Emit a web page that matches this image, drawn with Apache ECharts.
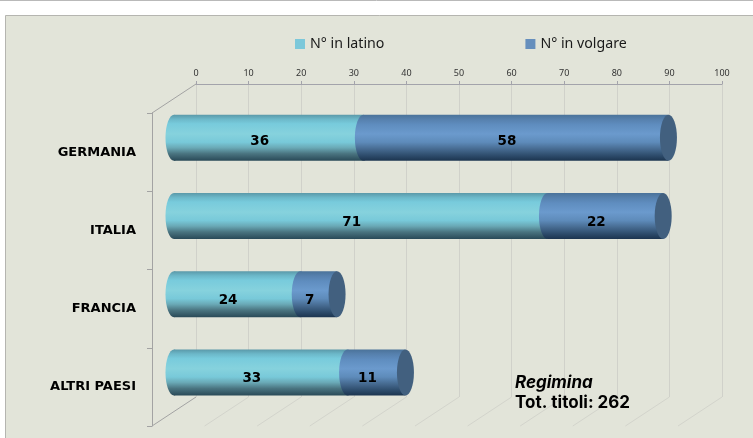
<!DOCTYPE html>
<html><head><meta charset="utf-8">
<style>html,body{margin:0;padding:0;background:#fff}#c{width:753px;height:438px}</style>
<script src="https://cdn.jsdelivr.net/npm/echarts@6/dist/echarts.min.js"></script>
</head><body><div id="c"></div>
<script>
const categories = ['GERMANIA', 'ITALIA', 'FRANCIA', 'ALTRI PAESI'];
const latino = [36, 71, 24, 33];
const volgare = [58, 22, 7, 11];
const axisTicks = [0, 10, 20, 30, 40, 50, 60, 70, 80, 90, 100];
const seriesNames = ['N° in latino', 'N° in volgare'];
const noteLines = ['Regimina', 'Tot. titoli: 262'];

// 3D look: depth of the box, and where the cylinders sit within it
const DX = -44, DY = 29, BAR_DX = -22, BAR_DY = 14.5, BAR_H = 46, RX = 8.5;
const LABEL_DY = [4, 7, 6, 6], LABEL_DX = -9;
const GRID = { left: 196, top: 84, width: 526, height: 313 };

function grad(stops) {
  return { type: 'linear', x: 0, y: 0, x2: 0, y2: 1,
    colorStops: stops.map(s => ({ offset: s[0], color: s[1] })) };
}
const latinFill = grad([[0, '#5a98a8'], [0.1, '#6cb8c9'], [0.2, '#78cbdc'], [0.42, '#86d2dd'], [0.6, '#78c9d9'], [0.72, '#6aa9b6'], [0.85, '#4a7480'], [1, '#2a4a58']]);
const volgFill = grad([[0, '#4a7299'], [0.1, '#5680ad'], [0.22, '#5f8dbf'], [0.42, '#6b9acd'], [0.6, '#5e8bba'], [0.75, '#466a90'], [0.88, '#2f4e6e'], [1, '#1c3550']]);
const capFill = '#42607f';

function cylinder(startIdx, endIdx, fill, withCap) {
  return function (params, api) {
    const i = api.value(2);
    const a = api.coord([api.value(startIdx), i]);
    const b = api.coord([api.value(endIdx), i]);
    const x0 = a[0] + BAR_DX, x1 = b[0] + BAR_DX, cy = a[1] + BAR_DY;
    const top = cy - BAR_H / 2;
    const children = [
      { type: 'ellipse', shape: { cx: x0, cy: cy, rx: RX, ry: BAR_H / 2 }, style: { fill: fill } },
      { type: 'rect', shape: { x: x0, y: top, width: x1 - x0, height: BAR_H }, style: { fill: fill } }
    ];
    if (withCap) {
      children.push({ type: 'ellipse', shape: { cx: x1, cy: cy, rx: RX, ry: BAR_H / 2 }, style: { fill: capFill } });
    }
    children.push({ type: 'text', z2: 50, style: {
      x: (x0 + x1) / 2 + LABEL_DX, y: cy + LABEL_DY[i],
      text: String(api.value(endIdx) - api.value(startIdx)),
      font: 'bold 13.5px "DejaVu Sans"', fill: '#000', align: 'center', verticalAlign: 'middle' } });
    return { type: 'group', children: children };
  };
}

function floorLine(params, api) {
  const v = api.value(0);
  const cs = params.coordSys;
  const x = api.coord([v, 0])[0];
  const yb = cs.y + cs.height;
  const strong = v === 0;
  const style = { stroke: strong ? '#a3a3a3' : '#d3d4cc', lineWidth: 1 };
  const children = [{ type: 'line', shape: { x1: x, y1: yb, x2: x + DX, y2: yb + DY }, style: style }];
  if (strong) children.push({ type: 'line', shape: { x1: x, y1: cs.y, x2: x + DX, y2: cs.y + DY }, style: style });
  return { type: 'group', children: children };
}

const latinData = categories.map((c, i) => [0, latino[i], i]);
const volgData = categories.map((c, i) => [latino[i], latino[i] + volgare[i], i]);

const chart = echarts.init(document.getElementById('c'), null, { renderer: 'canvas' });
chart.setOption({
  animation: false,
  backgroundColor: '#ffffff',
  textStyle: { fontFamily: '"Noto Sans"' },
  graphic: [
    { type: 'line', shape: { x1: 0, y1: 0.5, x2: 753, y2: 0.5 }, style: { stroke: '#b9b9b9', lineWidth: 1 }, z: -10 },
    { type: 'rect', shape: { x: 5.5, y: 15.5, width: 760, height: 440 }, style: { fill: '#e2e4d9', stroke: '#b5b5b0', lineWidth: 1 }, z: -10 },
    { type: 'text', left: 515, top: 374, z: 20, style: { text: noteLines[0], font: 'italic bold 17px "Inter"', fill: '#000' } },
    { type: 'text', left: 515, top: 394, z: 20, style: { text: noteLines[1], font: 'bold 17px "Inter"', fill: '#000' } }
  ],
  legend: {
    left: 295, top: 37, padding: 0, itemWidth: 10, itemHeight: 10, itemGap: 141, icon: 'rect',
    textStyle: { fontSize: 14.2, color: '#1a1a1a', fontFamily: '"Noto Sans"' },
    data: seriesNames
  },
  grid: [
    Object.assign({ containLabel: false }, GRID),
    { left: GRID.left + DX, top: GRID.top + DY, width: 10, height: GRID.height, containLabel: false }
  ],
  xAxis: [
    { gridIndex: 0, type: 'value', position: 'top', min: 0, max: 100, interval: 10,
      axisLine: { show: true, lineStyle: { color: '#a3a3ab', width: 1 } },
      axisTick: { show: true, length: 3, lineStyle: { color: '#a3a3ab' } },
      axisLabel: { fontSize: 9, color: '#333', margin: 6, formatter: v => String(v) },
      splitLine: { show: true, lineStyle: { color: '#d0d1ca', width: 1 } } },
    { gridIndex: 1, type: 'value', min: 0, max: 1, show: false }
  ],
  yAxis: [
    { gridIndex: 0, type: 'category', inverse: true, data: categories, show: false },
    { gridIndex: 1, type: 'category', inverse: true, data: categories,
      axisLine: { show: true, lineStyle: { color: '#a3a3a3', width: 1 } },
      axisTick: { show: true, length: 5, alignWithLabel: false, lineStyle: { color: '#a3a3a3' } },
      axisLabel: { margin: 16, fontSize: 13, fontWeight: 'bold', color: '#000', fontFamily: '"DejaVu Sans"', padding: [5, 0, 0, 0] } }
  ],
  series: [
    { type: 'custom', name: 'floor', silent: true, xAxisIndex: 0, yAxisIndex: 0, z: 1,
      data: axisTicks.map(v => [v]), encode: { x: 0 }, renderItem: floorLine, clip: false },
    { type: 'custom', name: seriesNames[0], xAxisIndex: 0, yAxisIndex: 0, z: 3, clip: false,
      itemStyle: { color: '#7cc8da' }, data: latinData, encode: { x: [0, 1], y: 2 },
      renderItem: cylinder(0, 1, latinFill, false) },
    { type: 'custom', name: seriesNames[1], xAxisIndex: 0, yAxisIndex: 0, z: 4, clip: false,
      itemStyle: { color: '#668fbd' }, data: volgData, encode: { x: [0, 1], y: 2 },
      renderItem: cylinder(0, 1, volgFill, true) }
  ]
});
</script></body></html>
